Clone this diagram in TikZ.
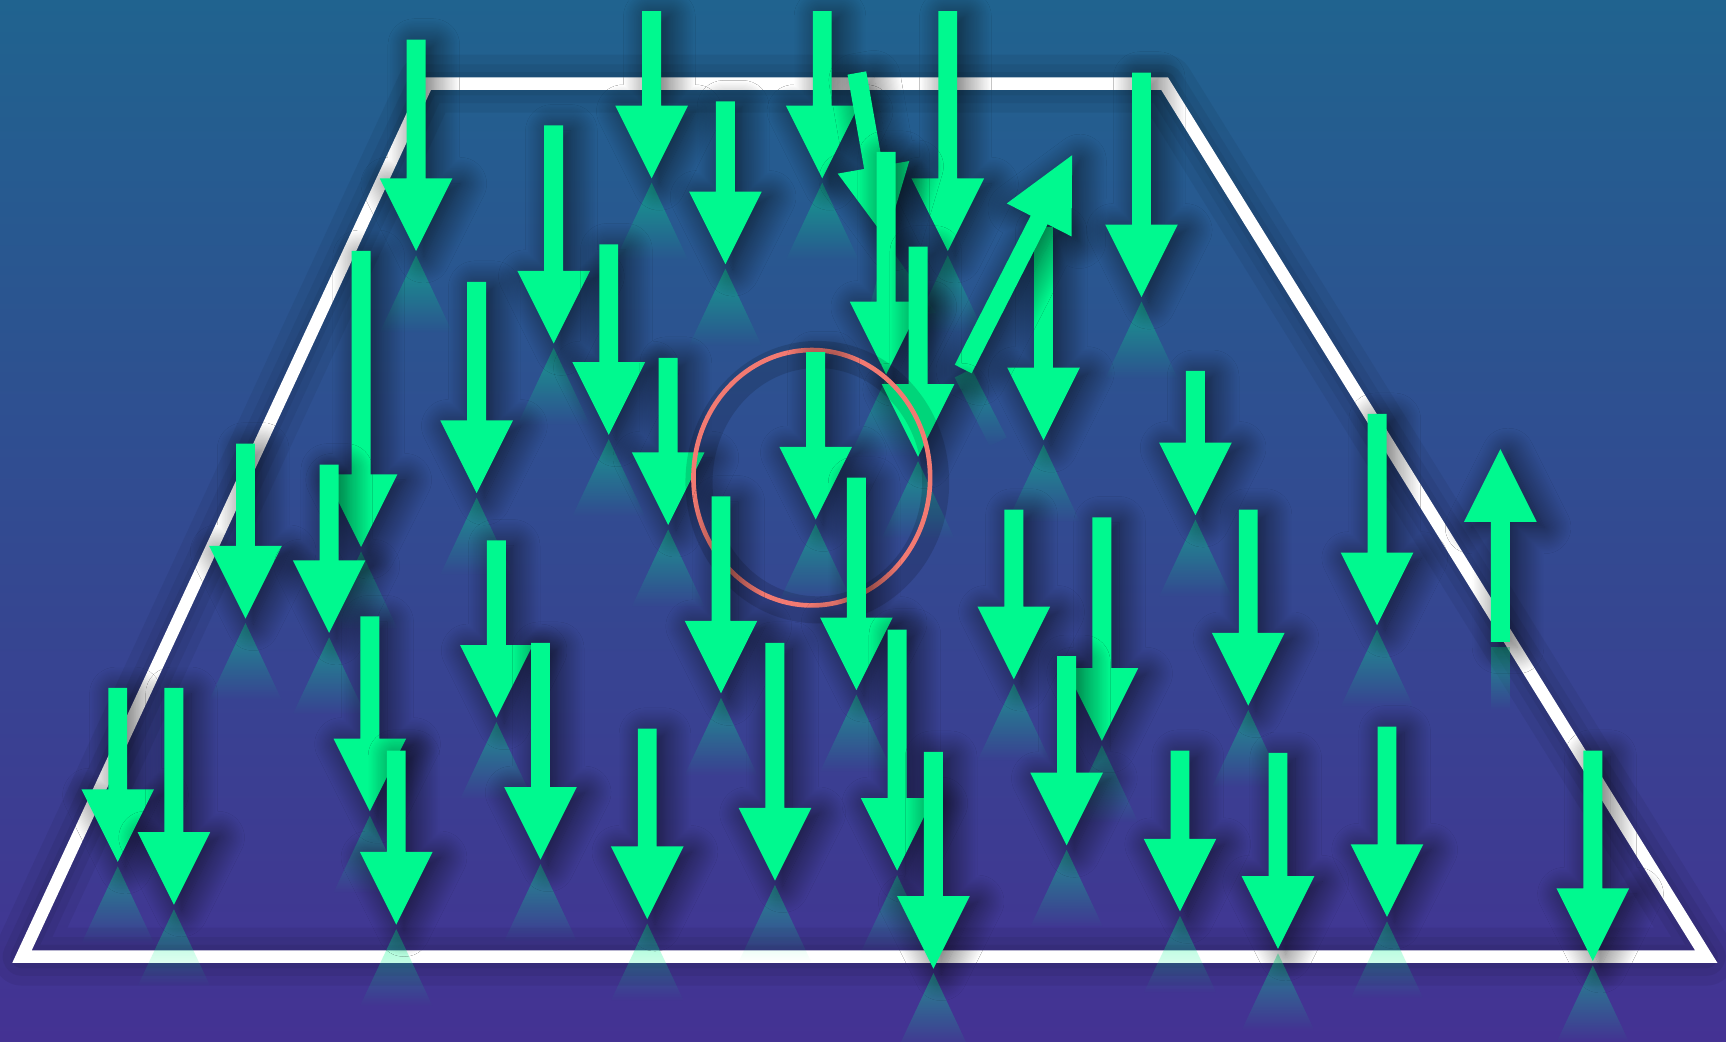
\documentclass[tikz,border=0pt]{standalone}
\usetikzlibrary{shadows.blur, fadings}
\definecolor{bgtop}{HTML}{20638F}
\definecolor{bgmid}{HTML}{30498F}
\definecolor{bgbot}{HTML}{443293}
\definecolor{arrowgreen}{HTML}{00F98F}
\definecolor{ringred}{HTML}{F27A72}
\tikzset{
  body/.style={fill=arrowgreen, blur shadow={shadow xshift=0.7mm, shadow yshift=-0.5mm, shadow blur radius=2.4mm, shadow blur steps=24, shadow opacity=65}},
  mirror/.style={fill=arrowgreen, fill opacity=0.42, path fading=south},
  frame/.style={draw=white, line width=3.2pt, line join=miter},
  halo/.style={draw=black, opacity=0.06, line join=round, xshift=0.6mm, yshift=-0.4mm},
  pics/down/.style={code={
    \fill[mirror] (0,4) -- (33,74) -- (-33,74) -- cycle;
    \fill[body] (-8.6,-#1) -- (8.6,-#1) -- (8.6,-66) -- (33,-66) -- (0,0) -- (-33,-66) -- (-8.6,-66) -- cycle;
  }},
  pics/up/.style={code={
    \fill[body] (-8.6,#1) -- (8.6,#1) -- (8.6,66) -- (33,66) -- (0,0) -- (-33,66) -- (-8.6,66) -- cycle;
  }}
}

\begin{document}
\begin{tikzpicture}[x=0.1mm, y=-0.1mm]
\useasboundingbox (0,0) rectangle (1568,946);
\shade[top color=bgtop, middle color=bgmid, bottom color=bgbot] (0,0) rectangle (1568,946);

\coordinate (tl) at (388,76);
\coordinate (tr) at (1058,76);
\coordinate (br) at (1550,869);
\coordinate (bl) at (20,869);
\foreach \w in {15pt,10pt,6pt}
  \draw[halo, line width=\w] (tl) -- (tr) -- (br) -- (bl) -- cycle;
\draw[frame] (tl) -- (tr) -- (br) -- (bl) -- cycle;

\pic at (592,162) {down=152};
\pic at (747,162) {down=152};
\pic at (861,228) {down=218};
\pic at (378,228) {down=192};
\pic[rotate=10] at (805,217) {down=153};
\pic at (1037,270) {down=204};
\pic at (659,240) {down=148};
\pic at (503,312) {down=198};
\pic at (805,340) {down=202};
\pic at (948,400) {down=194};
\fill[mirror, shift={(875,339)}, rotate=27] (-8.6,0) rectangle (8.6,70);
\pic[rotate=-27] at (974,141) {up=218};
\pic at (553,395) {down=173};
\pic at (834,415) {down=191};
\pic at (328,497) {down=269};
\pic at (433,448) {down=192};
\pic at (607,477) {down=152};

\draw[black, opacity=0.14, line width=7pt, xshift=0.5mm, yshift=-0.4mm] (737.5,434) ellipse [x radius=10.75mm, y radius=11.6mm];
\draw[ringred, line width=1.2pt] (737.5,434) ellipse [x radius=10.75mm, y radius=11.6mm];

\pic at (741,472) {down=152};
\pic at (1086,468) {down=131};
\pic at (1251,568) {down=192};
\pic at (223,562) {down=159};
\fill[mirror] (1354.4,588) rectangle (1371.6,645);
\pic at (1363,408) {up=175};
\pic at (299,575) {down=153};
\pic at (778,627) {down=193};
\pic at (655,630) {down=179};
\pic at (921,617) {down=154};
\pic at (1134,641) {down=178};
\pic at (1001,673) {down=203};
\pic at (451,652) {down=161};
\pic at (336,737) {down=177};
\pic at (815,791) {down=219};
\pic at (491,781) {down=197};
\pic at (704,800) {down=216};
\pic at (969,768) {down=172};
\pic at (107,783) {down=158};
\pic at (158,822) {down=197};
\pic at (1260,833) {down=173};
\pic at (588,835) {down=173};
\pic at (360,840) {down=158};
\pic at (1072,828) {down=146};
\pic at (1447,873) {down=191};
\pic at (848,880) {down=197};
\pic at (1161,862) {down=178};
\end{tikzpicture}
\end{document}
